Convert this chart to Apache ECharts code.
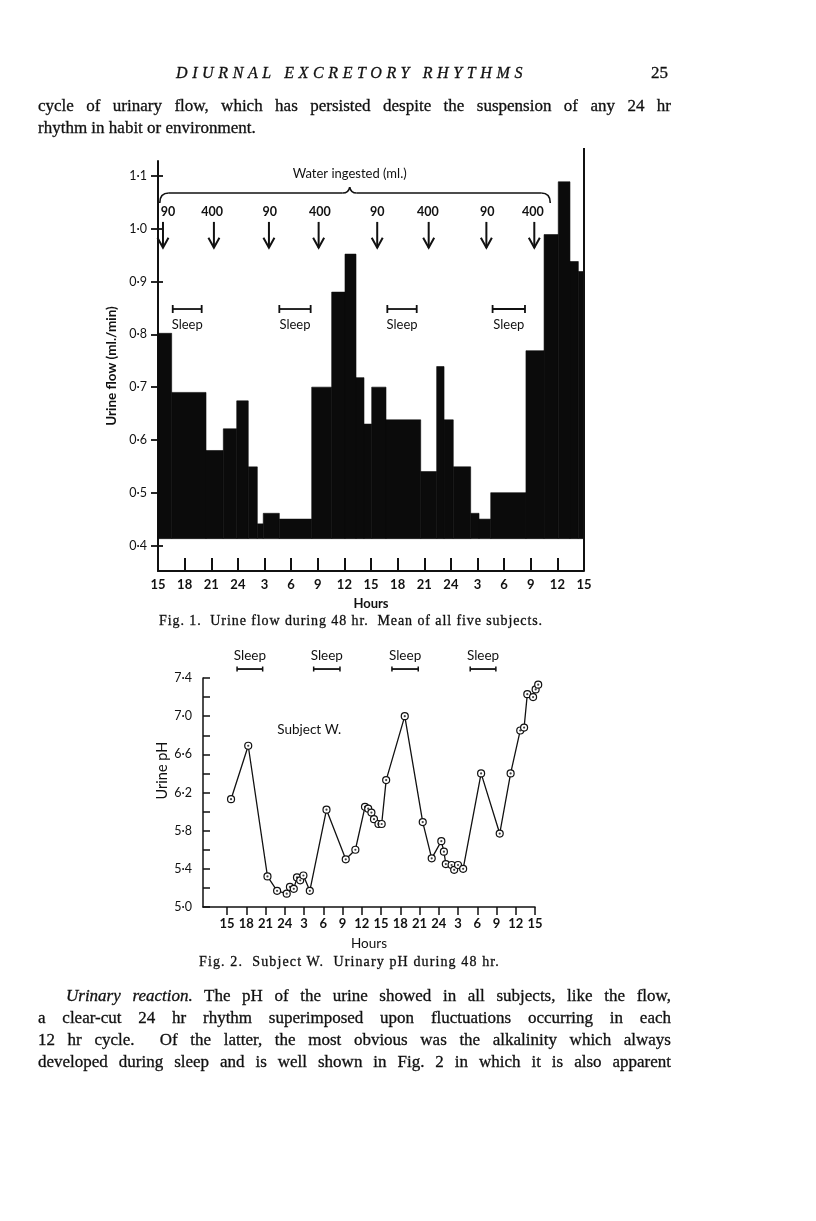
<!DOCTYPE html>
<html>
<head>
<meta charset="utf-8">
<script src="https://cdn.jsdelivr.net/npm/echarts@6/dist/echarts.min.js"></script>
<style>
  body { margin: 0; background: #fff; }
  #page { position: relative; width: 816px; height: 1221px; overflow: hidden; }
  #chart { position: absolute; left: 0; top: 0; width: 816px; height: 1221px; }
  .txt { position: absolute; font-family: "Liberation Serif", serif; font-size: 17px; line-height: 22px; color: #111; white-space: nowrap; -webkit-text-stroke: 0.3px #111; }
  .just { text-align: justify; text-align-last: justify; white-space: normal; }
  .cap { font-size: 14px; line-height: 18px; white-space: pre; }
</style>
</head>
<body>
<div id="page">
  <div id="chart"></div>
  <div class="txt fit" data-w="351" style="left:176px;top:62px;font-style:italic;font-size:16px;">DIURNAL EXCRETORY RHYTHMS</div>
  <div class="txt" style="left:600px;width:68px;top:62px;text-align:right;">25</div>
  <div class="txt just" style="left:38px;width:633px;top:95px;">cycle of urinary flow, which has persisted despite the suspension of any 24 hr</div>
  <div class="txt" style="left:38px;top:117px;">rhythm in habit or environment.</div>
  <div class="txt cap fit" data-w="384" style="left:159px;top:612px;">Fig. 1.  Urine flow during 48 hr.  Mean of all five subjects.</div>
  <div class="txt cap fit" data-w="301" style="left:199px;top:953px;">Fig. 2.  Subject W.  Urinary pH during 48 hr.</div>
  <div class="txt just" style="left:66px;width:605px;top:985px;"><i>Urinary reaction.</i> The pH of the urine showed in all subjects, like the flow,</div>
  <div class="txt just" style="left:38px;width:633px;top:1007px;">a clear-cut 24 hr rhythm superimposed upon fluctuations occurring in each</div>
  <div class="txt just" style="left:38px;width:633px;top:1029px;">12 hr cycle.&nbsp; Of the latter, the most obvious was the alkalinity which always</div>
  <div class="txt just" style="left:38px;width:633px;top:1051px;">developed during sleep and is well shown in Fig. 2 in which it is also apparent</div>
</div>
<script>
// hours since 15.00 on day 1, and the clock labels printed under them
var hourTicks = [0, 3, 6, 9, 12, 15, 18, 21, 24, 27, 30, 33, 36, 39, 42, 45, 48];
var clockLabels = ['15', '18', '21', '24', '3', '6', '9', '12', '15', '18', '21', '24', '3', '6', '9', '12', '15'];

// Fig. 1 urine flow (ml./min), stepped bars between edges
var flowEdges = [0, 1.54, 5.41, 7.36, 8.87, 10.17, 11.19, 11.86, 13.67, 17.32, 19.57, 21.07, 22.31, 23.21,
    24.08, 25.69, 29.6, 31.4, 32.23, 33.27, 35.23, 36.17, 37.49, 41.46, 43.5, 45.1, 46.42, 47.36, 48];
var flowValues = [0.802, 0.690, 0.580, 0.621, 0.674, 0.549, 0.441, 0.461, 0.450, 0.700, 0.880, 0.952, 0.718,
    0.630, 0.700, 0.638, 0.540, 0.739, 0.638, 0.549, 0.461, 0.450, 0.500, 0.769, 0.989, 1.089, 0.938, 0.919];
var flowBase = 0.413;
var flowTicks = [0.4, 0.5, 0.6, 0.7, 0.8, 0.9, 1.0, 1.1];
var flowMin = 0.3517, flowMax = 1.1284;

// water drinks
var waterHours = [0.56, 6.3, 12.5, 18.1, 24.7, 30.5, 37.0, 42.4];
var waterLabelHours = [1.13, 6.1, 12.6, 18.25, 24.7, 30.4, 37.1, 42.25];
var waterAmounts = ['90', '400', '90', '400', '90', '400', '90', '400'];

// sleep periods as drawn
var sleepFlow = [[1.66, 4.92], [13.67, 17.2], [25.84, 29.15], [37.7, 41.35]];
var sleepPh = [[1.56, 5.55], [13.5, 17.6], [25.7, 29.8], [37.9, 41.9]];

// Fig. 2 subject W. urinary pH
var phHours = [0.62, 3.3, 6.3, 7.8, 9.3, 9.8, 10.4, 10.9, 11.4, 11.9, 12.9, 15.5, 18.5, 20.0, 21.5, 22.0,
    22.5, 22.9, 23.6, 24.1, 24.8, 27.7, 30.5, 31.9, 33.4, 33.8, 34.1, 35.0, 35.4, 36.0, 36.8, 39.6, 42.5,
    44.2, 45.7, 46.3, 46.8, 47.7, 48.1, 48.5];
var phValues = [6.13, 6.69, 5.32, 5.17, 5.14, 5.21, 5.19, 5.31, 5.28, 5.33, 5.17, 6.02, 5.50, 5.60, 6.05,
    6.03, 5.99, 5.92, 5.87, 5.87, 6.33, 7.00, 5.89, 5.51, 5.69, 5.58, 5.45, 5.44, 5.39, 5.44, 5.40, 6.40,
    5.77, 6.40, 6.85, 6.88, 7.23, 7.20, 7.28, 7.33];

var INK = '#111';
var SANS = 'Lato';

function clockOf(v) {
    var i = hourTicks.indexOf(Math.round(v));
    return i < 0 ? '' : clockLabels[i];
}

function dotted(v) {
    return v.toFixed(1).replace('.', '\u00b7');
}

// stretch short lines of type to the printed width
document.querySelectorAll('.fit').forEach(function (el) {
    el.style.letterSpacing = '0px';
    var w = el.getBoundingClientRect().width;
    var n = el.textContent.length;
    el.style.letterSpacing = ((+el.dataset.w - w) / n) + 'px';
});

var flowBars = [];
for (let i = 0; i < flowValues.length; i++) {
    flowBars.push([flowEdges[i], flowEdges[i + 1], flowValues[i]]);
}
var phData = phHours.map(function (h, i) { return [h, phValues[i]]; });

let chart = echarts.init(document.getElementById('chart'));
let option = {
    backgroundColor: '#fff',
    animation: false,
    grid: [
        {left: 158, right: 232, top: 161, bottom: 650},
        {left: 203, right: 281, top: 678, bottom: 314}
    ],
    xAxis: [{
        gridIndex: 0, type: 'value', min: 0, max: 48, interval: 3,
        axisLine: {onZero: false, lineStyle: {color: INK, width: 2}},
        axisTick: {inside: true, length: 13, lineStyle: {color: INK, width: 2}},
        axisLabel: {margin: 7, color: INK, fontFamily: SANS, fontSize: 13, fontWeight: 'bold', formatter: clockOf},
        splitLine: {show: false},
        name: 'Hours', nameLocation: 'middle', nameGap: 26,
        nameTextStyle: {color: INK, fontFamily: SANS, fontSize: 13, fontWeight: 'bold'}
    }, {
        gridIndex: 1, type: 'value', min: -3.75, max: 48,
        axisLine: {onZero: false, lineStyle: {color: INK, width: 1.5}},
        axisTick: {customValues: hourTicks, length: 8, lineStyle: {color: INK, width: 1.5}},
        axisLabel: {customValues: hourTicks, margin: 10, color: INK, fontFamily: SANS, fontSize: 13, fontWeight: 'bold', formatter: clockOf},
        splitLine: {show: false},
        name: 'Hours', nameLocation: 'middle', nameGap: 30,
        nameTextStyle: {color: INK, fontFamily: SANS, fontSize: 13.5}
    }],
    yAxis: [{
        gridIndex: 0, type: 'value', position: 'left', min: flowMin, max: flowMax,
        axisLine: {show: true, onZero: false, lineStyle: {color: INK, width: 2}},
        axisTick: {customValues: flowTicks, length: 7, lineStyle: {color: INK, width: 1.8}},
        axisLabel: {customValues: flowTicks, margin: 11, color: INK, fontFamily: SANS, fontSize: 12.5, formatter: dotted},
        splitLine: {show: false},
        name: 'Urine flow (ml./min)', nameLocation: 'middle', nameGap: 37,
        nameTextStyle: {color: INK, fontFamily: SANS, fontSize: 13.5, fontWeight: 'bold'}
    }, {
        gridIndex: 0, type: 'value', position: 'left', min: flowMin, max: flowMax,
        axisLine: {show: false, onZero: false},
        axisTick: {customValues: flowTicks, inside: true, length: 5, lineStyle: {color: INK, width: 1.8}},
        axisLabel: {show: false},
        splitLine: {show: false}
    }, {
        gridIndex: 1, type: 'value', position: 'left', min: 5.0, max: 7.4, interval: 0.2,
        axisLine: {show: true, onZero: false, lineStyle: {color: INK, width: 1.5}},
        axisTick: {inside: true, length: 7, lineStyle: {color: INK, width: 1.5}},
        axisLabel: {
            margin: 11, color: INK, fontFamily: SANS, fontSize: 12.5,
            formatter: function (v) {
                return Math.round((v - 5) * 10) % 4 === 0 ? dotted(v) : '';
            }
        },
        splitLine: {show: false}
    }],
    series: [{
        type: 'custom',
        xAxisIndex: 0, yAxisIndex: 0,
        data: flowBars,
        encode: {x: [0, 1], y: 2},
        renderItem: function (params, api) {
            let top = api.coord([api.value(0), api.value(2)]);
            let bottom = api.coord([api.value(1), flowBase]);
            return {
                type: 'rect',
                shape: {x: top[0], y: top[1], width: bottom[0] - top[0], height: bottom[1] - top[1]},
                style: {fill: '#0b0b0b', stroke: '#0b0b0b', lineWidth: 0.6}
            };
        }
    }, {
        type: 'line',
        xAxisIndex: 1, yAxisIndex: 2,
        data: phData,
        clip: false,
        symbol: 'circle', symbolSize: 7,
        lineStyle: {color: INK, width: 1.3},
        itemStyle: {color: '#fff', borderColor: INK, borderWidth: 1.2}
    }, {
        type: 'scatter',
        xAxisIndex: 1, yAxisIndex: 2,
        data: phData,
        clip: false,
        symbol: 'circle', symbolSize: 2.2,
        itemStyle: {color: INK},
        z: 5
    }]
};
chart.setOption(option);

// annotations placed through the axes' own scales
function p1(x, y) { return chart.convertToPixel({seriesIndex: 0}, [x, y]); }
function p2(x, y) { return chart.convertToPixel({seriesIndex: 1}, [x, y]); }

function seg(a, b, w) {
    return {type: 'line', z: 20, shape: {x1: a[0], y1: a[1], x2: b[0], y2: b[1]}, style: {stroke: INK, lineWidth: w}};
}

function curve(a, c, b) {
    return {type: 'bezierCurve', z: 20, shape: {x1: a[0], y1: a[1], cpx1: c[0], cpy1: c[1], x2: b[0], y2: b[1]},
        style: {stroke: INK, lineWidth: 1.6, fill: null}};
}

function text(p, s, size, weight, rot) {
    return {
        type: 'text', z: 20, x: p[0], y: p[1], rotation: rot || 0,
        style: {
            text: s, font: (weight || 'normal') + ' ' + size + 'px ' + SANS, fill: INK,
            align: 'center', verticalAlign: 'middle', textAlign: 'center', textVerticalAlign: 'middle'
        }
    };
}

let g = [];

// right frame of fig. 1
g.push(seg(p1(48, 1.153), p1(48, flowMin), 2));

// water ingested brace
g.push(text(p1(21.6, 1.1038), 'Water ingested (ml.)', 13));
let bl = p1(0.2, 1.0678), br = p1(44.2, 1.0678), bm = p1(21.6, 1.0678);
let yEnd = p1(0, 1.049)[1], yPeak = p1(0, 1.079)[1], yl = bl[1];
g.push(curve([bl[0], yEnd], [bl[0], yl], [bl[0] + 9, yl]));
g.push(seg([bl[0] + 9, yl], [bm[0] - 7, yl], 1.6));
g.push(curve([bm[0] - 7, yl], [bm[0] - 1, yl], [bm[0], yPeak]));
g.push(curve([bm[0], yPeak], [bm[0] + 1, yl], [bm[0] + 7, yl]));
g.push(seg([bm[0] + 7, yl], [br[0] - 9, yl], 1.6));
g.push(curve([br[0] - 9, yl], [br[0], yl], [br[0], yEnd]));

// arrows with amounts
waterHours.forEach(function (h, i) {
    let a = p1(h, 1.013), b = p1(h, 0.964);
    g.push(seg(a, b, 2));
    g.push({type: 'polyline', z: 20, shape: {points: [[b[0] - 5.5, b[1] - 10], b, [b[0] + 5.5, b[1] - 10]]},
        style: {stroke: INK, lineWidth: 2, fill: null}});
    g.push(text(p1(waterLabelHours[i], 1.032), waterAmounts[i], 12.5, 'bold'));
});

// sleep marks, fig. 1
sleepFlow.forEach(function (s) {
    let a = p1(s[0], 0.848), b = p1(s[1], 0.848);
    g.push(seg(a, b, 1.8));
    g.push(seg([a[0], a[1] - 4], [a[0], a[1] + 4], 1.8));
    g.push(seg([b[0], b[1] - 4], [b[0], b[1] + 4], 1.8));
    g.push(text(p1((s[0] + s[1]) / 2, 0.8175), 'Sleep', 13));
});

// sleep marks, fig. 2
sleepPh.forEach(function (s) {
    let a = p2(s[0], 7.494), b = p2(s[1], 7.494);
    g.push(seg(a, b, 1.8));
    g.push(seg([a[0], a[1] - 2.5], [a[0], a[1] + 2.5], 1.5));
    g.push(seg([b[0], b[1] - 2.5], [b[0], b[1] + 2.5], 1.5));
    g.push(text(p2((s[0] + s[1]) / 2, 7.634), 'Sleep', 13.5));
});

g.push(text(p2(12.8, 6.86), 'Subject W.', 13.5));
g.push(text(p2(-10.1, 6.43), 'Urine pH', 14.5, 'normal', Math.PI / 2));

chart.setOption({graphic: g});
</script>
</body>
</html>
